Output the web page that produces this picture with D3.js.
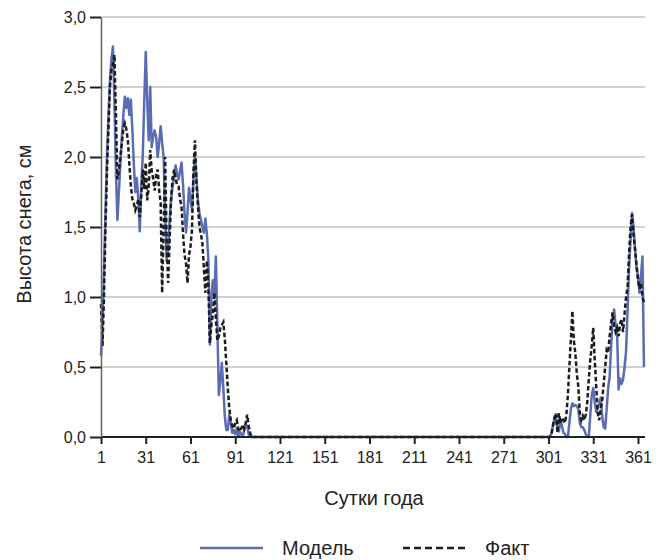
<!DOCTYPE html>
<html>
<head>
<meta charset="utf-8">
<script src="https://cdn.jsdelivr.net/npm/d3@7"></script>
<style>
  body { margin: 0; background: #fff; }
  text { font-family: "Liberation Sans", Arial, sans-serif; fill: #222; }
</style>
</head>
<body>
<script>
// days of year with snow data, spring part starts at day 1, autumn part at day 300
const spring_start = 1;
const autumn_start = 300;
const last_day = 366;

const model_spring = [0.58, 0.8, 1.2, 1.6, 2.0, 2.3, 2.55, 2.7, 2.79, 2.4,
  1.9, 1.55, 1.75, 1.95, 2.15, 2.3, 2.43, 2.35, 2.42, 2.3,
  2.41, 2.2, 1.95, 1.75, 1.85, 1.7, 1.47, 1.8, 2.01, 2.4,
  2.75, 2.4, 2.12, 2.5, 2.07, 2.15, 2.19, 2.14, 2.0, 2.1,
  2.22, 2.1, 2.0, 1.6, 1.26, 1.34, 1.55, 1.7, 1.79, 1.85,
  1.94, 1.88, 1.84, 1.9, 1.96, 1.8, 1.6, 1.46, 1.6, 1.78,
  1.7, 1.62, 1.85, 2.0, 1.85, 1.69, 1.6, 1.55, 1.5, 1.46,
  1.56, 1.45, 1.26, 0.66, 1.0, 1.12, 1.0, 1.29, 0.8, 0.3,
  0.4, 0.53, 0.35, 0.15, 0.05, 0.05, 0.16, 0.1, 0.03, 0.05,
  0.02, 0.06, 0.0, 0.04, 0.02, 0.0, 0.05, 0.08, 0.08, 0.02,
  0.0, 0.0];

const fact_spring = [0.95, 0.65, 1.0, 1.5, 1.9, 2.2, 2.5, 2.62, 2.66, 2.73,
  2.3, 1.84, 1.9, 2.0, 2.1, 2.2, 2.24, 2.2, 2.12, 1.95,
  1.8, 1.7, 1.67, 1.62, 1.65, 1.7, 1.57, 1.72, 1.91, 1.77,
  1.96, 1.69, 1.79, 2.05, 1.9, 1.84, 1.76, 1.88, 1.91, 1.76,
  1.67, 1.03, 1.5, 2.0, 1.4, 1.1, 1.4, 1.7, 1.85, 1.91,
  1.85, 1.8, 1.79, 1.7, 1.64, 1.45, 1.3, 1.24, 1.1, 1.3,
  1.36, 1.48, 1.9, 2.12, 1.81, 1.65, 1.5, 1.45, 1.38, 1.2,
  1.03, 1.26, 1.07, 0.67, 0.8, 0.88, 1.03, 0.85, 0.69, 0.72,
  0.78, 0.8, 0.82, 0.7, 0.53, 0.35, 0.21, 0.12, 0.08, 0.06,
  0.1, 0.12, 0.06, 0.04, 0.06, 0.09, 0.06, 0.1, 0.16, 0.08,
  0.03, 0.0];

const model_autumn = [0, 0, 0, 0.03, 0.08, 0.13, 0.13, 0.06, 0.04, 0.12,
  0.08, 0.03, 0.02, 0, 0, 0.1, 0.2, 0.24, 0.22, 0.23,
  0.22, 0.2, 0.1, 0.07, 0.07, 0.05, 0.02, 0, 0, 0.15,
  0.3, 0.35, 0.25, 0.18, 0.2, 0.24, 0.28, 0.15, 0.07, 0.06,
  0.2, 0.35, 0.43, 0.65, 0.85, 0.91, 0.8, 0.74, 0.34, 0.42,
  0.38, 0.41, 0.5, 0.61, 0.9, 1.2, 1.4, 1.6, 1.5, 1.35,
  1.21, 1.15, 1.03, 1.15, 1.29, 0.5];

const fact_autumn = [0, 0, 0, 0.02, 0.08, 0.14, 0.17, 0.03, 0.17, 0.1,
  0.14, 0.12, 0.1, 0.16, 0.3, 0.5, 0.7, 0.9, 0.69, 0.6,
  0.45, 0.36, 0.17, 0.12, 0.15, 0.12, 0.16, 0.25, 0.41, 0.55,
  0.65, 0.78, 0.55, 0.36, 0.17, 0.12, 0.2, 0.26, 0.38, 0.5,
  0.62, 0.6, 0.72, 0.82, 0.89, 0.79, 0.75, 0.78, 0.72, 0.81,
  0.84, 0.75, 0.88, 1.0, 1.07, 1.31, 1.5, 1.59, 1.45, 1.34,
  1.23, 1.12, 1.06, 1.1, 1.0, 0.96];

const x_ticks = [1, 31, 61, 91, 121, 151, 181, 211, 241, 271, 301, 331, 361];
const y_ticks = [0, 0.5, 1.0, 1.5, 2.0, 2.5, 3.0];
const legend_names = ['Модель', 'Факт'];

const _svg_width = 665;
const _svg_height = 560;
const _left = 101;
const _right = 645;
const _top = 17;
const _bottom = 437;

const model_color = '#5a6db3';
const fact_color = '#1c1c1c';
const comma_format = d => d3.format('.1f')(d).replace('.', ',');

// spring and autumn pieces joined by the summer days at zero
function build_series(spring, autumn) {
  const pts = spring.map((v, i) => [spring_start + i, v]);
  pts.push([spring_start + spring.length, 0]);
  pts.push([autumn_start - 1, 0]);
  autumn.forEach((v, i) => pts.push([autumn_start + i, v]));
  return pts;
}

const x = d3.scaleLinear().domain([1, last_day - 0.3]).range([_left, _right]);
const y = d3.scaleLinear().domain([0, 3]).range([_bottom, _top]);

const svg = d3.select('body').append('svg')
  .attr('width', _svg_width)
  .attr('height', _svg_height);

// grid
svg.append('g')
  .selectAll('line')
  .data(y_ticks.filter(d => d > 0))
  .join('line')
  .attr('x1', _left).attr('x2', _right)
  .attr('y1', d => y(d)).attr('y2', d => y(d))
  .attr('stroke', '#c4c4c4')
  .attr('stroke-width', 1.5);

const line = d3.line().x(d => x(d[0])).y(d => y(d[1]));

svg.append('path')
  .datum(build_series(model_spring, model_autumn))
  .attr('d', line)
  .attr('fill', 'none')
  .attr('stroke', model_color)
  .attr('stroke-width', 2.5)
  .attr('stroke-linejoin', 'round');

svg.append('path')
  .datum(build_series(fact_spring, fact_autumn))
  .attr('d', line)
  .attr('fill', 'none')
  .attr('stroke', fact_color)
  .attr('stroke-width', 2.5)
  .attr('stroke-dasharray', '4.5,2.5');

// axes
const x_axis = svg.append('g')
  .attr('transform', `translate(0,${_bottom})`)
  .call(d3.axisBottom(x).tickValues(x_ticks).tickSize(7).tickSizeOuter(0).tickPadding(8));
x_axis.select('.domain').attr('stroke', '#222').attr('stroke-width', 2)
  .attr('d', `M${_left},0H${_right}`);
x_axis.selectAll('.tick line').attr('stroke', '#222').attr('stroke-width', 2);
x_axis.selectAll('.tick text').style('font-size', '16px').style('font-family', '"Liberation Sans", Arial, sans-serif').attr('fill', '#222');

const y_axis = svg.append('g')
  .attr('transform', `translate(${_left},0)`)
  .call(d3.axisLeft(y).tickValues(y_ticks).tickFormat(comma_format).tickSize(11).tickSizeOuter(0).tickPadding(4));
y_axis.select('.domain').attr('stroke', '#666').attr('stroke-width', 1.5);
y_axis.selectAll('.tick line').attr('stroke', '#222').attr('stroke-width', 2);
y_axis.selectAll('.tick text').style('font-size', '16px').style('font-family', '"Liberation Sans", Arial, sans-serif').attr('fill', '#222');

// axis titles
svg.append('text')
  .attr('x', 374)
  .attr('y', 505)
  .attr('text-anchor', 'middle')
  .style('font-size', '20px')
  .text('Сутки года');

svg.append('text')
  .attr('transform', `translate(31,224) rotate(-90)`)
  .attr('text-anchor', 'middle')
  .style('font-size', '20px')
  .text('Высота снега, см');

// legend
const legend = svg.append('g').attr('transform', 'translate(0,548)');
const legend_items = [
  { name: legend_names[0], color: model_color, dash: null, x0: 200 },
  { name: legend_names[1], color: fact_color, dash: '7,4', x0: 403 }
];
legend_items.forEach(it => {
  legend.append('line')
    .attr('x1', it.x0).attr('x2', it.x0 + 63)
    .attr('y1', 0).attr('y2', 0)
    .attr('stroke', it.color)
    .attr('stroke-width', 2.5)
    .attr('stroke-dasharray', it.dash);
  legend.append('text')
    .attr('x', it.x0 + 82)
    .attr('y', 7)
    .style('font-size', '20px')
    .text(it.name);
});
</script>
</body>
</html>
